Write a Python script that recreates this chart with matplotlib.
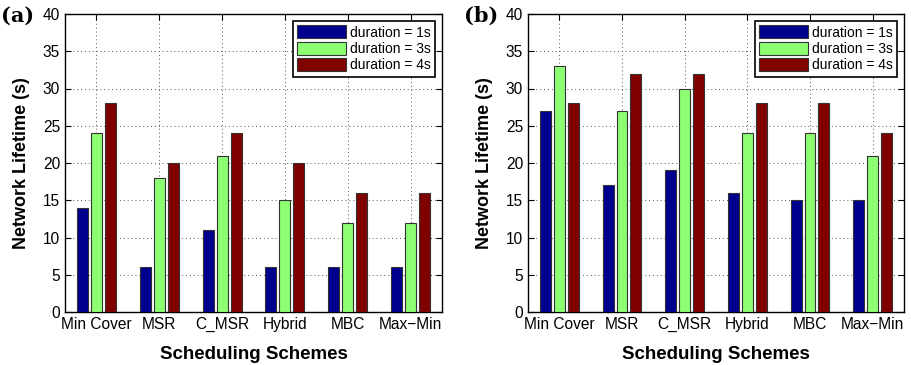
import numpy as np
import matplotlib.pyplot as plt

schemes = ['Min Cover', 'MSR', 'C_MSR', 'Hybrid', 'MBC', 'Max\u2212Min']
labels = ['duration = 1s', 'duration = 3s', 'duration = 4s']
colors = ['#00008f', '#8cff73', '#800000']

# panel (a)
a_1s = [14, 6, 11, 6, 6, 6]
a_3s = [24, 18, 21, 15, 12, 12]
a_4s = [28, 20, 24, 20, 16, 16]
# panel (b)
b_1s = [27, 17, 19, 16, 15, 15]
b_3s = [33, 27, 30, 24, 24, 21]
b_4s = [28, 32, 32, 28, 28, 24]

plt.rcParams['font.family'] = ['Liberation Sans', 'DejaVu Sans']

fig = plt.figure(figsize=(9.12, 3.65), dpi=100)
ax_a = fig.add_axes([65/912, 1-312/365, 377/912, 298/365])
ax_b = fig.add_axes([528/912, 1-312/365, 376/912, 298/365])

x = np.arange(1, len(schemes) + 1)
step = 0.222
w = 0.175

for ax, series, tag in [(ax_a, [a_1s, a_3s, a_4s], '(a)'),
                        (ax_b, [b_1s, b_3s, b_4s], '(b)')]:
    for i, (vals, c, lab) in enumerate(zip(series, colors, labels)):
        ax.bar(x + (i - 1) * step, vals, width=w, color=c, edgecolor='#333333',
               linewidth=0.8, label=lab, zorder=3)
    ax.set_xlim(0.5, 6.5)
    ax.set_ylim(0, 40)
    ax.set_xticks(x)
    ax.set_xticklabels(schemes, fontsize=11.2)
    ax.set_yticks(range(0, 41, 5))
    ax.tick_params(axis='y', labelsize=11.2)
    ax.tick_params(direction='in', length=4, top=True, right=True)
    ax.grid(True, linestyle=(0, (1, 3)), color='#555555', linewidth=0.7)
    ax.set_axisbelow(True)
    for s in ax.spines.values():
        s.set_linewidth(1.0)
    ax.set_xlabel('Scheduling Schemes', fontsize=13.5, fontweight='bold', labelpad=10)
    ax.set_ylabel('Network Lifetime (s)', fontsize=13, fontweight='bold', labelpad=9)
    leg = ax.legend(loc='upper right', fontsize=10, fancybox=False, framealpha=1,
                    edgecolor='black', handlelength=3.5, handleheight=1.1,
                    borderpad=0.3, labelspacing=0.15, handletextpad=0.3,
                    borderaxespad=0.5)
    leg.get_frame().set_linewidth(1.2)
    ax.text(-0.17, 0.995, tag, transform=ax.transAxes, fontsize=15,
            fontweight='bold', family='DejaVu Serif', va='center', ha='left')

plt.savefig('out.png', dpi=100)
